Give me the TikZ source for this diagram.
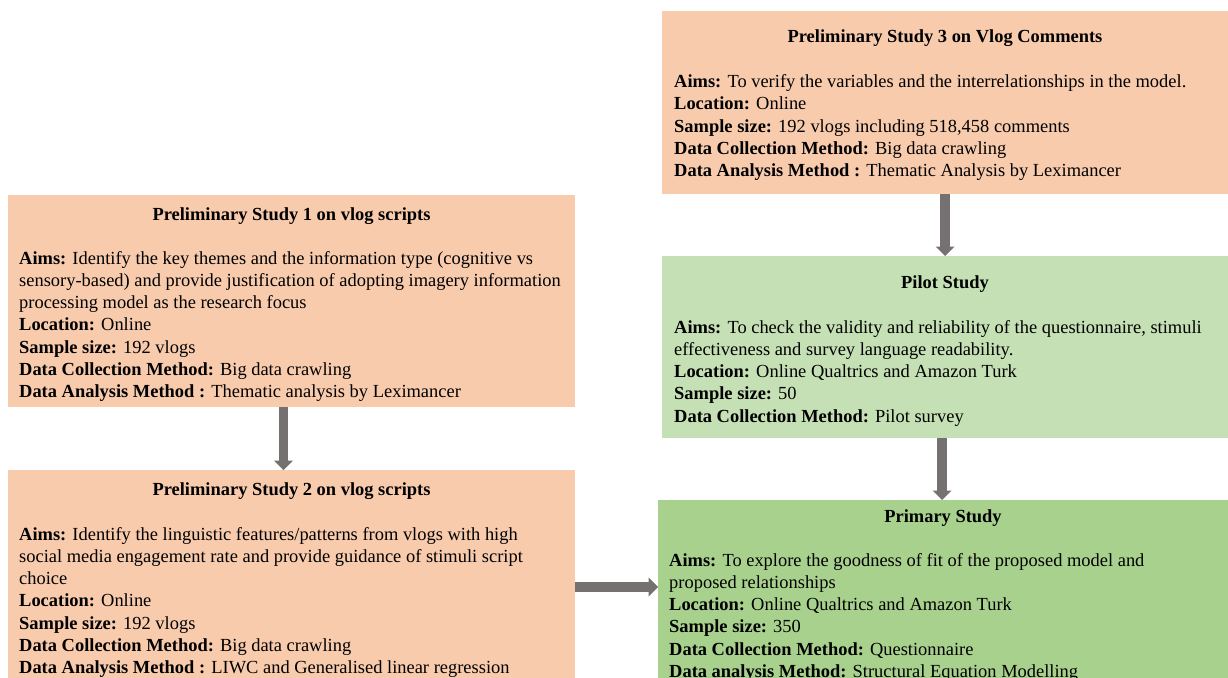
\documentclass[tikz,border=0pt]{standalone}
\usepackage{fontspec}
\setmainfont{Liberation Serif}
\usetikzlibrary{arrows.meta}

\definecolor{peach}{HTML}{F8CBAD}
\definecolor{palegreen}{HTML}{C5E0B4}
\definecolor{midgreen}{HTML}{A9D18E}
\definecolor{arrowgray}{HTML}{767171}

% stacked left-aligned lines whose baseline is the first line
\newcommand{\bodylines}[1]{\begin{tabular}[t]{@{}l@{}}#1\end{tabular}}

\begin{document}
\begin{tikzpicture}[
  x=1pt, y=-1pt,
  every node/.style={font=\fontsize{18.45}{22.3}\selectfont},
  box/.style={draw=none, inner sep=0pt, outer sep=0pt, anchor=north west},
  boxtitle/.style={anchor=base, inner sep=0pt, font=\fontsize{18.45}{22.3}\selectfont\bfseries},
  boxbody/.style={anchor=base west, inner sep=0pt},
  flow/.style={draw=arrowgray, line width=9.5pt,
    -{Triangle[length=9.5pt, width=19pt, line width=0pt, fill=arrowgray]}}
]
\clip (0,0) rectangle (1228,677);

% study boxes
\node[box, fill=peach, minimum width=566pt, minimum height=183pt] (ps3) at (662,11) {};
\node[box, fill=peach, minimum width=567pt, minimum height=212pt] (ps1) at (8,195) {};
\node[box, fill=peach, minimum width=567pt, minimum height=220pt] (ps2) at (8,470) {};
\node[box, fill=palegreen, minimum width=566pt, minimum height=182pt] (pilot) at (662,256) {};
\node[box, fill=midgreen, minimum width=570pt, minimum height=200pt] (primary) at (658,500) {};

% Preliminary Study 3
\node[boxtitle] (ps3title) at (945,43) {Preliminary Study 3 on Vlog Comments};
\node[boxbody] (ps3body) at (674,87.5) {\bodylines{%
  \textbf{Aims:} To verify the variables and the interrelationships in the model.\\
  \textbf{Location:} Online\\
  \textbf{Sample size:} 192 vlogs including 518,458 comments\\
  \textbf{Data Collection Method:} Big data crawling\\
  \textbf{Data Analysis Method :} Thematic Analysis by Leximancer}};

% Preliminary Study 1
\node[boxtitle] (ps1title) at (291.5,220) {Preliminary Study 1 on vlog scripts};
\node[boxbody] (ps1body) at (19,264) {\bodylines{%
  \textbf{Aims:} Identify the key themes and the information type (cognitive vs\\
  sensory-based) and provide justification of adopting imagery information\\
  processing model as the research focus\\
  \textbf{Location:} Online\\
  \textbf{Sample size:} 192 vlogs\\
  \textbf{Data Collection Method:} Big data crawling\\
  \textbf{Data Analysis Method :} Thematic analysis by Leximancer}};

% Preliminary Study 2
\node[boxtitle] (ps2title) at (291.5,495) {Preliminary Study 2 on vlog scripts};
\node[boxbody] (ps2body) at (19,540) {\bodylines{%
  \textbf{Aims:} Identify the linguistic features/patterns from vlogs with high\\
  social media engagement rate and provide guidance of stimuli script\\
  choice\\
  \textbf{Location:} Online\\
  \textbf{Sample size:} 192 vlogs\\
  \textbf{Data Collection Method:} Big data crawling\\
  \textbf{Data Analysis Method :} LIWC and Generalised linear regression}};

% Pilot Study
\node[boxtitle] (pilottitle) at (945,288) {Pilot Study};
\node[boxbody] (pilotbody) at (674,333) {\bodylines{%
  \textbf{Aims:} To check the validity and reliability of the questionnaire, stimuli\\
  effectiveness and survey language readability.\\
  \textbf{Location:} Online Qualtrics and Amazon Turk\\
  \textbf{Sample size:} 50\\
  \textbf{Data Collection Method:} Pilot survey}};

% Primary Study
\node[boxtitle] (primarytitle) at (943,522) {Primary Study};
\node[boxbody] (primarybody) at (669,566) {\bodylines{%
  \textbf{Aims:} To explore the goodness of fit of the proposed model and\\
  proposed relationships\\
  \textbf{Location:} Online Qualtrics and Amazon Turk\\
  \textbf{Sample size:} 350\\
  \textbf{Data Collection Method:} Questionnaire\\
  \textbf{Data analysis Method:} Structural Equation Modelling}};

% flow between studies
\coordinate (mid) at (617,587);
\draw[flow] ([xshift=-8pt]ps1.south) -- ([xshift=-8pt]ps2.north);
\draw[flow] (ps3.south) -- (pilot.north);
\draw[flow] ([xshift=-3pt]pilot.south) -- ([xshift=-3pt]pilot.south |- primary.north);
\draw[flow] (ps2.east |- mid) -- (primary.west |- mid);
\end{tikzpicture}
\end{document}
